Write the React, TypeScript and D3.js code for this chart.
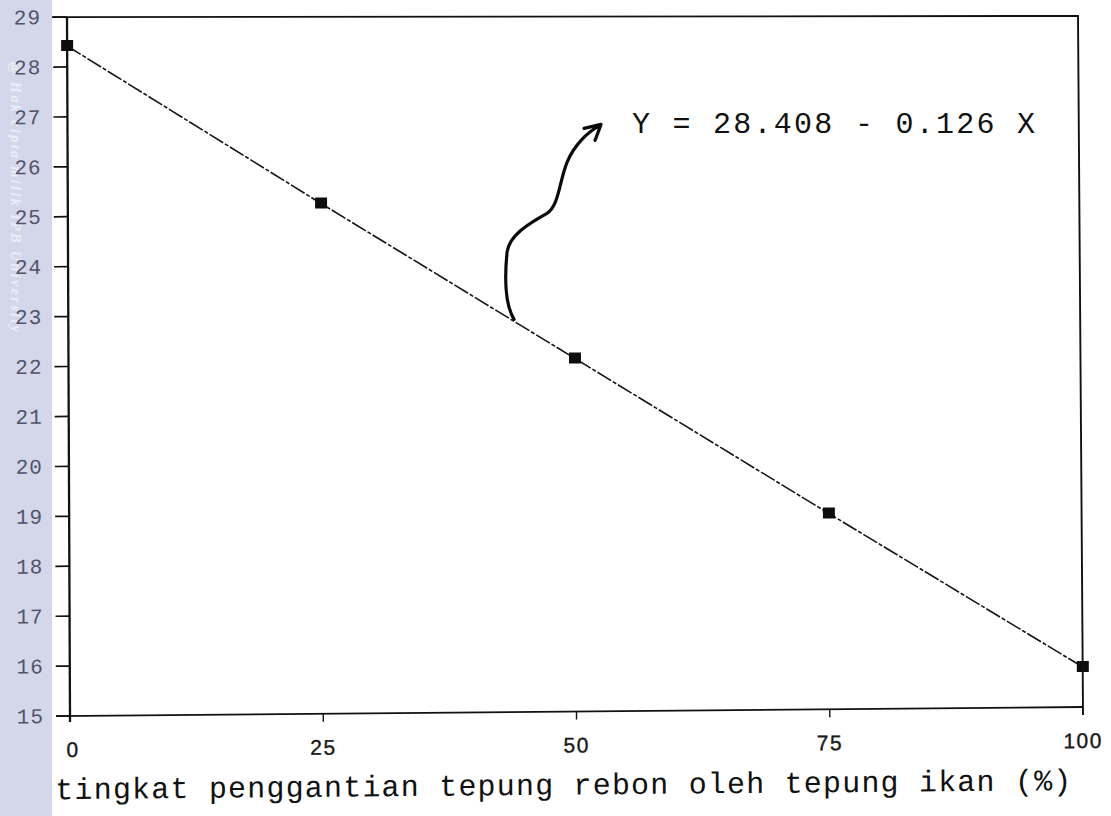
import * as d3 from "d3";
import { useEffect, useRef } from "react";

const WIDTH = 1111;
const HEIGHT = 816;
// plot box in local coords (the scan is slightly skewed, see SKEW)
const plotW = 1013;
const plotH = 699;
const origin = { x: 67, y: 17 };
const SKEW = { b: -0.00888, c: 0.00429 };
const topRight = { x: 1078, y: 16 };

const levels = [0, 25, 50, 75, 100];
const yValues = [28.42, 25.22, 22.07, 18.92, 15.8];
const xTicks = [0, 25, 50, 75, 100];
const yTicks = [15, 16, 17, 18, 19, 20, 21, 22, 23, 24, 25, 26, 27, 28, 29];
const equation = "Y = 28.408 - 0.126 X";
const xTitle = "tingkat penggantian tepung rebon oleh tepung ikan (%)";
const watermark = "@ Hak cipta milik IPB University";
const arrowAtX = 44;

const toScreen = (u, v) => [
  origin.x + u + SKEW.c * v,
  origin.y + SKEW.b * u + v,
];

const App = () => {
  const svgRef = useRef(null);

  useEffect(() => {
    document.body.style.margin = "0";
    const svg = d3.select(svgRef.current);
    svg.selectAll("*").remove();

    svg
      .append("rect")
      .attr("width", WIDTH)
      .attr("height", HEIGHT)
      .attr("fill", "#ffffff");

    // lavender page-margin strip with the repository watermark
    svg
      .append("rect")
      .attr("width", 52)
      .attr("height", HEIGHT)
      .attr("fill", "#d4d7ea");
    svg
      .append("text")
      .attr("transform", "translate(11, 62) rotate(90)")
      .attr("font-family", "Liberation Serif")
      .attr("font-weight", "bold")
      .attr("font-style", "italic")
      .attr("font-size", 14)
      .attr("fill", "#eceef7")
      .attr("textLength", 270)
      .text(watermark);

    const x = d3.scaleLinear().domain([0, 100]).range([0, plotW]);
    const y = d3.scaleLinear().domain([15, 29]).range([plotH, 0]);

    const g = svg
      .append("g")
      .attr(
        "transform",
        `matrix(1, ${SKEW.b}, ${SKEW.c}, 1, ${origin.x}, ${origin.y})`
      );

    const ink = "#111";
    // left axis and bottom axis
    g.append("line")
      .attr("x1", 0).attr("y1", 0)
      .attr("x2", 0).attr("y2", plotH + 6)
      .attr("stroke", ink).attr("stroke-width", 2.3);
    g.append("line")
      .attr("x1", -14).attr("y1", plotH)
      .attr("x2", plotW).attr("y2", plotH)
      .attr("stroke", ink).attr("stroke-width", 1.9);

    // top and right borders are level/upright in the scan
    const [tlx, tly] = toScreen(-15, 0);
    const [brx, bry] = toScreen(plotW, plotH + 8);
    svg
      .append("path")
      .attr("d", `M${tlx},${tly}L${topRight.x},${topRight.y}L${brx},${bry}`)
      .attr("fill", "none")
      .attr("stroke", ink)
      .attr("stroke-width", 1.9);

    // y ticks and labels
    const yAxis = g.append("g");
    yAxis
      .selectAll("line")
      .data(yTicks)
      .join("line")
      .attr("x1", -14)
      .attr("x2", 0)
      .attr("y1", (d) => y(d))
      .attr("y2", (d) => y(d))
      .attr("stroke", ink)
      .attr("stroke-width", 1.7);
    yAxis
      .selectAll("text")
      .data(yTicks)
      .join("text")
      .attr("x", -26)
      .attr("y", (d) => y(d) + 7)
      .attr("text-anchor", "end")
      .attr("font-family", "Liberation Mono")
      .attr("font-size", 21)
      .attr("letter-spacing", 1)
      .attr("fill", "#50536a")
      .text((d) => d);

    // x ticks and labels
    const xAxis = g.append("g");
    xAxis
      .selectAll("line")
      .data(xTicks.slice(1, -1))
      .join("line")
      .attr("x1", (d) => x(d))
      .attr("x2", (d) => x(d))
      .attr("y1", plotH)
      .attr("y2", plotH + 8)
      .attr("stroke", ink)
      .attr("stroke-width", 1.4);
    xAxis
      .selectAll("text")
      .data(xTicks)
      .join("text")
      .attr("x", (d) => x(d) + (d === 0 ? 3 : 0))
      .attr("y", plotH + 41)
      .attr("text-anchor", "middle")
      .attr("font-family", "Liberation Sans")
      .attr("font-size", 21)
      .attr("letter-spacing", 1.5)
      .attr("fill", "#1a1a1a")
      .attr("stroke", "#1a1a1a")
      .attr("stroke-width", 0.4)
      .text((d) => d);

    g.append("text")
      .attr("x", -15)
      .attr("y", plotH + 83)
      .attr("font-family", "Liberation Mono")
      .attr("font-size", 30)
      .attr("fill", "#111")
      .attr("textLength", 1016)
      .attr("lengthAdjust", "spacing")
      .text(xTitle);

    // fitted line through the treatment means
    const pts = levels.map((l, i) => [x(l), y(yValues[i])]);
    g.append("path")
      .attr("d", d3.line()(pts))
      .attr("fill", "none")
      .attr("stroke", "#151515")
      .attr("stroke-width", 1.6)
      .attr("stroke-dasharray", "16 2 4 2");

    g.selectAll(".pt")
      .data(pts)
      .join("rect")
      .attr("class", "pt")
      .attr("x", (d) => d[0] - 6)
      .attr("y", (d) => d[1] - 6)
      .attr("width", 12)
      .attr("height", 11)
      .attr("fill", "#0d0d0d");

    // hand-drawn arrow from the line to the equation
    const [sx, sy] = toScreen(
      x(arrowAtX),
      y(28.408 - 0.126 * arrowAtX)
    );
    const p = d3.path();
    p.moveTo(sx, sy);
    p.bezierCurveTo(sx - 10, sy - 17, sx - 9, sy - 47, sx - 7, sy - 67);
    p.bezierCurveTo(sx - 5, sy - 84, sx + 15, sy - 96, sx + 33, sy - 106);
    p.bezierCurveTo(sx + 45, sy - 114, sx + 45, sy - 137, sx + 53, sy - 157);
    p.bezierCurveTo(sx + 60, sy - 174, sx + 73, sy - 187, sx + 86, sy - 194);
    p.moveTo(sx + 70, sy - 191);
    p.lineTo(sx + 87, sy - 195);
    p.lineTo(sx + 81, sy - 179);
    svg
      .append("path")
      .attr("d", p.toString())
      .attr("fill", "none")
      .attr("stroke", "#0a0a0a")
      .attr("stroke-width", 3.2)
      .attr("stroke-linecap", "round")
      .attr("stroke-linejoin", "round");

    svg
      .append("text")
      .attr("x", 632)
      .attr("y", 133)
      .attr("font-family", "Liberation Mono")
      .attr("font-size", 30)
      .attr("fill", "#111")
      .attr("textLength", 403)
      .attr("lengthAdjust", "spacing")
      .text(equation);
  }, []);

  return (
    <svg
      ref={svgRef}
      width={WIDTH}
      height={HEIGHT}
      style={{ position: "absolute", left: 0, top: 0, display: "block" }}
    />
  );
};

export default App;
